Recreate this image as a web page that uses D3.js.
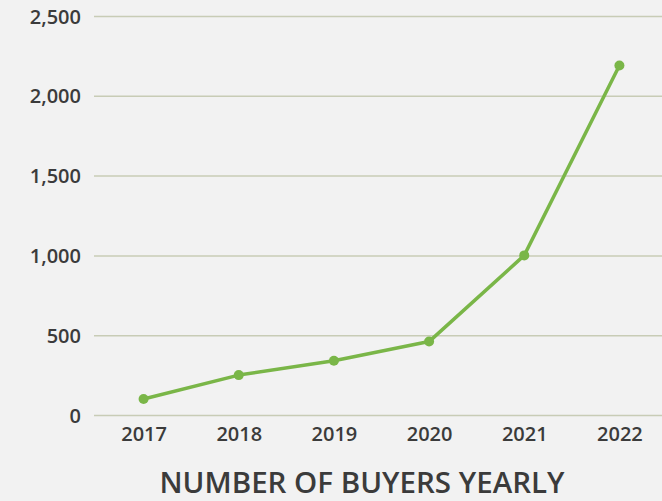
<!DOCTYPE html>
<html>
<head>
<meta charset="utf-8">
<script src="https://cdn.jsdelivr.net/npm/d3@7"></script>
<style>
  body { margin: 0; background: #f2f2f2; }
  .canvas { width: 662px; height: 501px; }
  text { font-family: "Open Sans", sans-serif; fill: #3b3b3b; }
  .axis path { display: none; }
  .axis line { stroke: #c8ccb6; stroke-width: 1.5; }
  .axis text { font-size: 20px; font-weight: 600; }
</style>
</head>
<body>
<div class="canvas"></div>
<script>
const years = ["2017", "2018", "2019", "2020", "2021", "2022"];
const buyers = [100, 250, 340, 460, 1000, 2190];
const yTicks = [0, 500, 1000, 1500, 2000, 2500];
const title = "NUMBER OF BUYERS YEARLY";

function setup() {
  const width = 662;
  const height = 501;

  const x = d3.scalePoint().domain(years).range([96, 667]).padding(0.5);
  const y = d3.scaleLinear().domain([0, 2500]).range([415, 16]);

  const svg = d3
    .select(".canvas")
    .append("svg")
    .attr("width", width)
    .attr("height", height);

  const yAxis = d3
    .axisLeft(y)
    .tickValues(yTicks)
    .tickFormat(d3.format(","))
    .tickSize(-(width - 94))
    .tickPadding(13);

  svg
    .append("g")
    .attr("class", "axis")
    .attr("transform", "translate(94, 0)")
    .call(yAxis)
    .selectAll("text")
    .attr("dy", "0.35em");

  const xAxis = d3.axisBottom(x).tickSize(0).tickPadding(12);
  svg
    .append("g")
    .attr("class", "axis")
    .attr("transform", "translate(0, 415)")
    .call(xAxis);

  const line = d3
    .line()
    .x((d, i) => x(years[i]))
    .y((d) => y(d));

  svg
    .append("path")
    .datum(buyers)
    .attr("d", line)
    .attr("fill", "none")
    .attr("stroke", "#7ab648")
    .attr("stroke-width", 3.5)
    .attr("stroke-linejoin", "round");

  svg
    .selectAll("circle")
    .data(buyers)
    .enter()
    .append("circle")
    .attr("cx", (d, i) => x(years[i]))
    .attr("cy", (d) => y(d))
    .attr("r", 5)
    .attr("fill", "#7ab648");

  svg
    .append("text")
    .attr("x", 362)
    .attr("y", 493)
    .attr("text-anchor", "middle")
    .style("font-size", "29.5px")
    .style("font-weight", 600)
    .text(title);
}

setup();
</script>
</body>
</html>
